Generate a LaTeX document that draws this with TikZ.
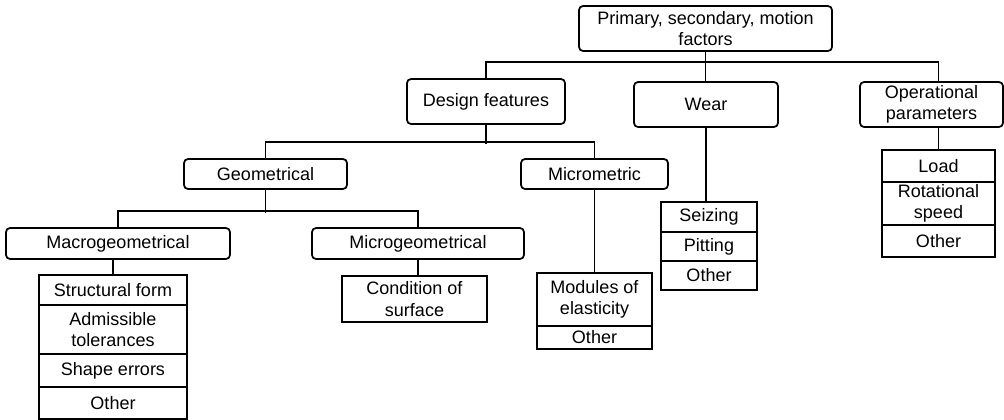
\documentclass[tikz,border=0pt]{standalone}
\usepackage{fontspec}
\setmainfont{Liberation Sans}
\usepackage{tikz}
\usetikzlibrary{positioning, calc}

\tikzset{
	box/.style={draw, line width=1.3pt, rounded corners=3pt, align=center, inner sep=0pt},
	cell/.style={draw, line width=1.3pt, align=center, inner sep=0pt},
	size/.style 2 args={minimum width=#1*0.75pt, minimum height=#2*0.75pt},
	link/.style={line width=1.3pt}
}

\begin{document}
\begin{tikzpicture}[x=0.75pt, y=-0.75pt, font=\fontsize{13.5}{16}\selectfont]
	\useasboundingbox (0,0) rectangle (1004,419);
	% rounded boxes
	\node[box, size={253}{45}] (root) at (705.5,28.5) {Primary, secondary, motion\\factors};
	\node[box, size={158}{45}] (design) at (486,101.5) {Design features};
	\node[box, size={144}{45}] (wear) at (706,104.5) {Wear};
	\node[box, size={143}{45}] (oper) at (931.5,104.5) {Operational\\parameters};
	\node[box, size={163}{30}] (geo) at (265.5,174) {Geometrical};
	\node[box, size={147}{30}] (micm) at (594.5,174) {Micrometric};
	\node[box, size={224}{31}] (macro) at (118,243.5) {Macrogeometrical};
	\node[box, size={212}{31}] (micg) at (418,243.5) {Microgeometrical};

	% stacked lists
	\foreach \n/\y/\h/\txt in {1/290/30/{Structural form}, 2/329.5/49/{Admissible\\tolerances},
		3/370.5/33/{Shape errors}, 4/403/32/{Other}}{
		\node[cell, size={148}{\h}] (ml\n) at (113,\y) {\txt};
	}
	\node[cell, size={145}{46}] (cond) at (414.5,299) {Condition of\\surface};
	\foreach \n/\y/\h/\txt in {1/299.5/53/{Modules of\\elasticity}, 2/337.5/23/{Other}}{
		\node[cell, size={115}{\h}] (mod\n) at (594.5,\y) {\txt};
	}
	\foreach \n/\y/\h/\txt in {1/217/30/{Seizing}, 2/246.5/29/{Pitting}, 3/275.5/29/{Other}}{
		\node[cell, size={96}{\h}] (ws\n) at (709,\y) {\txt};
	}
	\foreach \n/\y/\h/\txt in {1/166/32/{Load}, 2/203.5/43/{Rotational\\speed}, 3/241/32/{Other}}{
		\node[cell, size={113}{\h}] (ol\n) at (938.5,\y) {\txt};
	}

	% connectors
	\draw[link] (root.south) -- (root.south |- wear.north);
	\draw[link] (design.north) -- ++(0,-16) -| (oper.north -| ol1.north);
	\draw[link] (design.south) -- ++(0,19);
	\draw[link] (geo.north) -- ++(0,-16) -| (micm.north);
	\draw[link] (geo.south) -- ++(0,23);
	\draw[link] (macro.north) -- ++(0,-16) -| (micg.north);
	\draw[link] (macro.south -| ml1.north) -- (ml1.north);
	\draw[link] (micg.south) -- (micg.south |- cond.north);
	\draw[link] (micm.south) -- (mod1.north);
	\draw[link] (wear.south) -- (wear.south |- ws1.north);
	\draw[link] (oper.south -| ol1.north) -- (ol1.north);
\end{tikzpicture}
\end{document}
